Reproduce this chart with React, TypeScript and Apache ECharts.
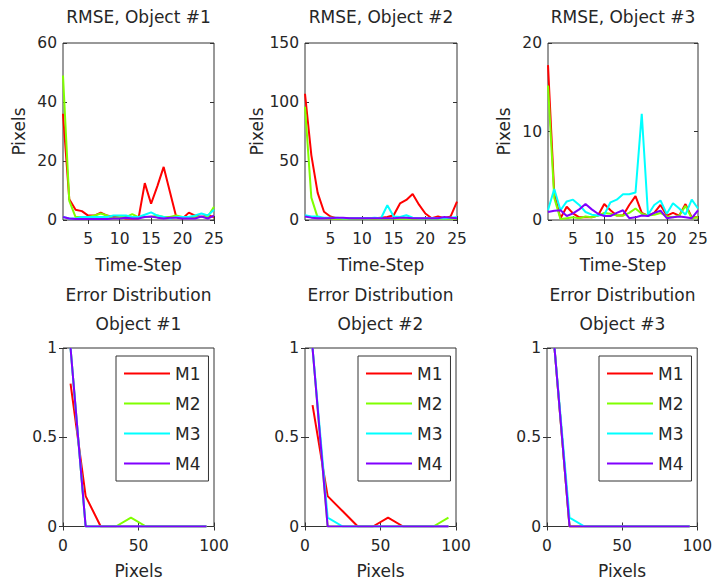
import React, { useEffect, useRef } from "react";
import * as echarts from "echarts";

const methods = ["M1", "M2", "M3", "M4"];
const colors = ["#ff0000", "#80ff00", "#00ffff", "#8000ff"];

const timeSteps = [1, 2, 3, 4, 5, 6, 7, 8, 9, 10, 11, 12, 13, 14, 15, 16, 17, 18, 19, 20, 21, 22, 23, 24, 25];
const timeTicks = [5, 10, 15, 20, 25];

// RMSE, Object #1
const rmse1M1 = [36, 7, 3.5, 3, 1.5, 1.5, 2.5, 1.5, 1, 1, 0.5, 0.5, 0.5, 12.5, 5.5, 11.5, 18, 9.5, 1, 0.5, 2.5, 1.5, 1, 1.5, 1];
const rmse1M2 = [49, 6.5, 1, 1, 1, 1.5, 2.2, 1.5, 0.5, 1, 1, 2, 1, 1, 1, 1.5, 1, 1, 1.5, 1, 1, 1, 1, 1, 4.5];
const rmse1M3 = [1, 0.5, 0.5, 1, 1, 1, 1, 1, 1.5, 1.5, 1.5, 1, 1, 1.8, 2.6, 1.5, 1, 0.5, 1, 1, 1, 1.5, 2.2, 1.5, 3.5];
const rmse1M4 = [1, 0.5, 0.3, 0.3, 0.3, 0.3, 0.3, 0.3, 0.5, 0.5, 0.8, 0.5, 0.5, 1, 1.2, 0.8, 0.5, 0.8, 0.8, 0.5, 0.5, 0.5, 1.2, 0.5, 1.5];

// RMSE, Object #2
const rmse2M1 = [107, 55, 23, 7, 3, 1.5, 1.5, 1.5, 1, 1, 1.5, 1.5, 2, 2.5, 4, 14, 17, 22, 13, 5.5, 1.5, 3, 1.5, 3, 15.5];
const rmse2M2 = [96, 19, 2, 1.5, 1, 1, 1, 1, 1, 1, 1, 1, 1, 1, 1, 1, 1, 1, 1, 1, 1, 1, 1, 1, 1];
const rmse2M3 = [4, 3, 3, 2, 2, 2, 1.5, 1.5, 1.5, 1.5, 1.5, 2, 1.5, 12.5, 3, 2.5, 4, 2, 1.5, 1.5, 1.5, 1.5, 1.5, 2, 2.5];
const rmse2M4 = [3, 2, 1.5, 1.5, 1.5, 2, 2, 1.5, 1.5, 1.5, 1.5, 1.5, 1.5, 1.5, 1.5, 2, 2, 1.5, 1.5, 1.5, 1.5, 1.5, 2.5, 2, 1.5];

// RMSE, Object #3
const rmse3M1 = [17.5, 3, 0.2, 1.5, 0.75, 0.3, 0.3, 0.3, 0.5, 1.8, 1.1, 0.5, 0.5, 1.7, 2.7, 0.8, 0.5, 0.8, 1.7, 0.5, 0.8, 0.5, 1.8, 0.3, 0.3];
const rmse3M2 = [15.2, 2.5, 0.1, 0.2, 0.3, 0.2, 0.4, 0.3, 0.5, 0.8, 0.7, 0.5, 0.5, 0.8, 1.3, 0.7, 0.5, 0.6, 0.8, 0.4, 0.3, 0.5, 1.6, 0.2, 0.3];
const rmse3M3 = [1.1, 3.5, 1.1, 2.1, 2.3, 1.7, 0.9, 0.6, 0.5, 0.6, 2, 2.3, 2.9, 2.9, 3.1, 12, 0.6, 1.7, 2.2, 0.7, 1.9, 1.3, 0.6, 2.3, 1.3];
const rmse3M4 = [0.9, 1.05, 1.1, 0.45, 0.75, 1.2, 1.8, 1.2, 0.7, 0.45, 0.45, 0.8, 1.1, 0.2, 0.3, 0.5, 0.45, 0.8, 1.05, 0.2, 0.3, 0.4, 0.3, 0.2, 1.1];

// Error distribution
const distBins = [5, 15, 25, 35, 45, 55, 65, 75, 85, 95];
const dist1M1 = [0.8, 0.17, 0, 0, 0, 0, 0, 0, 0, 0];
const dist1M2 = [1, 0, 0, 0, 0.05, 0, 0, 0, 0, 0];
const dist1M3 = [1, 0, 0, 0, 0, 0, 0, 0, 0, 0];
const dist1M4 = [1, 0, 0, 0, 0, 0, 0, 0, 0, 0];
const dist2M1 = [0.68, 0.17, 0.085, 0, 0, 0.05, 0, 0, 0, 0];
const dist2M2 = [1, 0, 0, 0, 0, 0, 0, 0, 0, 0.05];
const dist2M3 = [1, 0.05, 0, 0, 0, 0, 0, 0, 0, 0];
const dist2M4 = [1, 0, 0, 0, 0, 0, 0, 0, 0, 0];
const dist3M1 = [1, 0, 0, 0, 0, 0, 0, 0, 0, 0];
const dist3M2 = [1, 0, 0, 0, 0, 0, 0, 0, 0, 0];
const dist3M3 = [1, 0.05, 0, 0, 0, 0, 0, 0, 0, 0];
const dist3M4 = [1, 0, 0, 0, 0, 0, 0, 0, 0, 0];

const topTitles = ["RMSE, Object #1", "RMSE, Object #2", "RMSE, Object #3"];
const bottomTitles = ["Object #1", "Object #2", "Object #3"];
const yMaxTop = [60, 150, 20];
const yIntTop = [20, 50, 10];

const FONT = "DejaVu Sans";
const TXT = "#262626";
const AX = "#333333";

const gridsPos = [
  { left: 63, top: 43, width: 151, height: 177 },
  { left: 305, top: 43, width: 152, height: 177 },
  { left: 548, top: 43, width: 150, height: 177 },
  { left: 63, top: 348, width: 151, height: 178.5 },
  { left: 305, top: 348, width: 151, height: 178.5 },
  { left: 547, top: 348, width: 151, height: 178.5 },
];

function buildOption() {
  const topData = [
    [rmse1M1, rmse1M2, rmse1M3, rmse1M4],
    [rmse2M1, rmse2M2, rmse2M3, rmse2M4],
    [rmse3M1, rmse3M2, rmse3M3, rmse3M4],
  ];
  const botData = [
    [dist1M1, dist1M2, dist1M3, dist1M4],
    [dist2M1, dist2M2, dist2M3, dist2M4],
    [dist3M1, dist3M2, dist3M3, dist3M4],
  ];
  const labelStyle = { fontFamily: FONT, fontSize: 15.5, color: TXT };
  const nameStyle = { fontFamily: FONT, fontSize: 17, color: TXT };
  const tick = (inside = true) => ({ show: true, inside, length: 4, lineStyle: { color: AX, width: 1 } });

  const grid: any[] = gridsPos.map((g) => ({
    ...g,
    show: true,
    borderColor: AX,
    borderWidth: 1,
    backgroundColor: "#fff",
    containLabel: false,
  }));
  const xAxis: any[] = [];
  const yAxis: any[] = [];
  const series: any[] = [];

  for (let i = 0; i < 6; i++) {
    const isTop = i < 3;
    const k = i % 3;
    const xBase: any = isTop
      ? { min: 1, max: 25 }
      : { min: 0, max: 100, interval: 50 };
    const xTickCustom = isTop ? { customValues: timeTicks } : {};
    const yBase: any = isTop
      ? { min: 0, max: yMaxTop[k], interval: yIntTop[k] }
      : { min: 0, max: 1, interval: 0.5 };

    const xi = xAxis.length;
    xAxis.push({
      type: "value",
      gridIndex: i,
      position: "bottom",
      ...xBase,
      axisLine: { show: false },
      axisTick: { ...tick(), ...xTickCustom },
      axisLabel: { ...labelStyle, margin: 11, ...xTickCustom },
      splitLine: { show: false },
      name: isTop ? "Time-Step" : "Pixels",
      nameLocation: "middle",
      nameGap: 36,
      nameTextStyle: nameStyle,
    });
    xAxis.push({
      type: "value",
      gridIndex: i,
      position: "top",
      ...xBase,
      axisLine: { show: false },
      axisTick: { ...tick(), ...xTickCustom },
      axisLabel: { show: false, ...xTickCustom },
      splitLine: { show: false },
    });
    const yi = yAxis.length;
    yAxis.push({
      type: "value",
      gridIndex: i,
      position: "left",
      ...yBase,
      axisLine: { show: false },
      axisTick: tick(),
      axisLabel: { ...labelStyle, margin: 6 },
      splitLine: { show: false },
      name: isTop ? "Pixels" : "",
      nameLocation: "middle",
      nameGap: 36,
      nameTextStyle: nameStyle,
    });
    yAxis.push({
      type: "value",
      gridIndex: i,
      position: "right",
      ...yBase,
      axisLine: { show: false },
      axisTick: tick(),
      axisLabel: { show: false },
      splitLine: { show: false },
    });

    const sets = isTop ? topData[k] : botData[k];
    const xs = isTop ? timeSteps : distBins;
    sets.forEach((vals, m) => {
      series.push({
        type: "line",
        name: methods[m],
        xAxisIndex: xi,
        yAxisIndex: yi,
        data: xs.map((x, j) => [x, vals[j]]),
        showSymbol: false,
        symbol: "none",
        lineStyle: { color: colors[m], width: 2 },
        itemStyle: { color: colors[m] },
        emphasis: { disabled: true },
        silent: true,
        z: 2 + m,
      });
    });
  }

  const legendLefts = [116, 358, 599];
  const legend = legendLefts.map((l) => ({
    orient: "vertical",
    left: l,
    top: 356,
    padding: [9, 8, 9, 8],
    itemWidth: 46,
    itemHeight: 2,
    itemGap: 13,
    icon: "rect",
    borderColor: AX,
    borderWidth: 1,
    backgroundColor: "#fff",
    selectedMode: false,
    textStyle: { fontFamily: FONT, fontSize: 17, color: TXT },
    data: methods.map((m, idx) => ({ name: m, itemStyle: { color: colors[idx] } })),
  }));

  const centers = gridsPos.map((g) => g.left + g.width / 2);
  const titleText = (text: string, x: number, y: number) => ({
    type: "text",
    x,
    y,
    silent: true,
    style: {
      text,
      fill: TXT,
      font: `17px "${FONT}"`,
      align: "center",
      verticalAlign: "middle",
      textAlign: "center",
      textVerticalAlign: "middle",
    },
  });
  const graphic: any[] = [];
  for (let k = 0; k < 3; k++) {
    graphic.push(titleText(topTitles[k], centers[k], 16.5));
    graphic.push(titleText("Error Distribution", centers[k + 3], 295));
    graphic.push(titleText(bottomTitles[k], centers[k + 3], 323.5));
  }

  return {
    animation: false,
    backgroundColor: "#ffffff",
    grid,
    xAxis,
    yAxis,
    series,
    legend,
    graphic,
  };
}

export default function App() {
  const ref = useRef<HTMLDivElement>(null);
  useEffect(() => {
    if (!ref.current) return;
    const chart = echarts.init(ref.current, null, { renderer: "svg" });
    chart.setOption(buildOption() as any);
    return () => chart.dispose();
  }, []);
  return (
    <div
      ref={ref}
      style={{ position: "fixed", left: 0, top: 0, width: 715, height: 584, background: "#fff" }}
    />
  );
}
